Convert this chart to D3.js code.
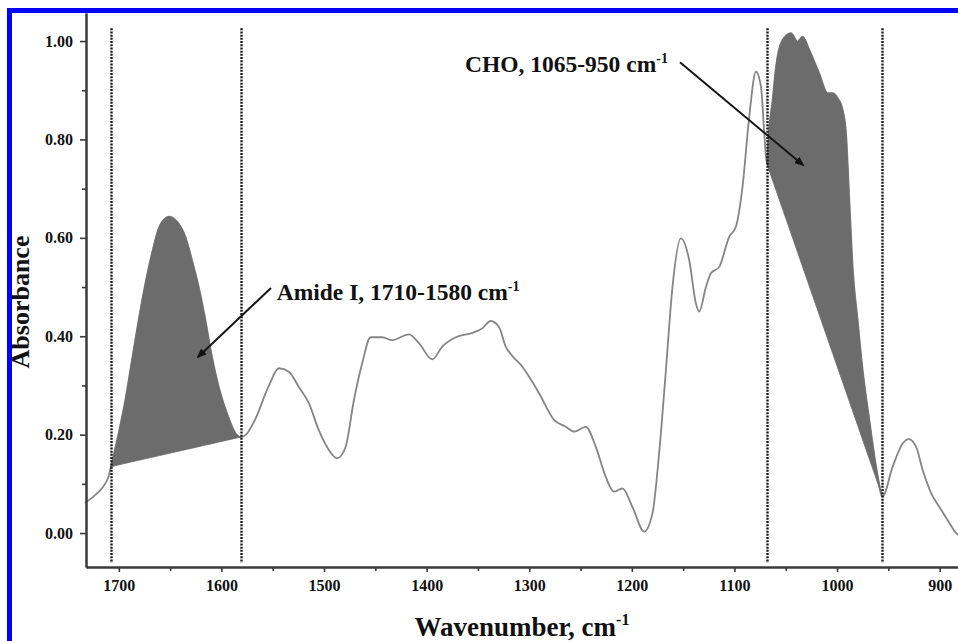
<!DOCTYPE html>
<html>
<head>
<meta charset="utf-8">
<script src="https://cdn.jsdelivr.net/npm/d3@7"></script>
<style>
  html, body { margin: 0; padding: 0; background: #fff; }
  svg { display: block; }
  text { font-family: "Liberation Serif", "Times New Roman", serif; font-weight: bold; fill: #111; }
</style>
</head>
<body>
<svg id="chart" width="958" height="641"></svg>
<script>
// ---- data ----
const wavenumber = [1733, 1726, 1720, 1714, 1710, 1707.7, 1700.2, 1693.7, 1687.2, 1680.7, 1674.1, 1667.7, 1661.2, 1654.6, 1651.4, 1643.3, 1635.1, 1628.7, 1622.1, 1615.6, 1609.2, 1602.6, 1594.5, 1586.3, 1581.3, 1576, 1567.3, 1554.3, 1544.1, 1534.3, 1524.6, 1514.8, 1505.1, 1495.3, 1487.2, 1479.0, 1470.9, 1462.8, 1454.6, 1443.3, 1433.6, 1417.3, 1407.5, 1394.5, 1384.8, 1371.7, 1355.5, 1345.8, 1337.6, 1329.5, 1322.9, 1316.5, 1306.7, 1300.2, 1290.4, 1275.8, 1264.4, 1256.3, 1244.9, 1235.1, 1225.4, 1217.3, 1209.2, 1199.4, 1188.0, 1179.9, 1173.4, 1166.8, 1160.4, 1152.2, 1144.1, 1137.6, 1134.3, 1127.8, 1122.9, 1114.8, 1105.1, 1098.5, 1092.1, 1085.6, 1079.0, 1074.1, 1070.9, 1068.5, 1066.0, 1062.8, 1059.5, 1053.1, 1044.9, 1038.4, 1033.6, 1027.0, 1017.3, 1009.2, 1004.3, 999.4, 994.5, 991.2, 988.0, 984.8, 979.9, 975.0, 968.5, 961.9, 955.8, 945.8, 936.0, 930.1, 922.9, 916.5, 908.3, 900.2, 890.4, 883.9, 875];
const absorbance = [0.061, 0.072, 0.083, 0.098, 0.115, 0.135, 0.203, 0.27, 0.352, 0.433, 0.508, 0.569, 0.619, 0.640, 0.643, 0.633, 0.602, 0.555, 0.50, 0.433, 0.358, 0.297, 0.243, 0.203, 0.195, 0.200, 0.23, 0.297, 0.335, 0.328, 0.297, 0.264, 0.209, 0.169, 0.152, 0.175, 0.27, 0.345, 0.398, 0.398, 0.392, 0.404, 0.386, 0.353, 0.379, 0.398, 0.407, 0.416, 0.431, 0.419, 0.379, 0.36, 0.338, 0.318, 0.284, 0.23, 0.216, 0.206, 0.216, 0.175, 0.114, 0.084, 0.091, 0.053, 0.003, 0.04, 0.162, 0.331, 0.50, 0.599, 0.555, 0.467, 0.45, 0.50, 0.528, 0.541, 0.602, 0.623, 0.704, 0.846, 0.938, 0.907, 0.812, 0.751, 0.826, 0.88, 0.948, 1.002, 1.016, 0.999, 1.009, 0.982, 0.934, 0.894, 0.894, 0.884, 0.86, 0.812, 0.677, 0.541, 0.433, 0.331, 0.23, 0.135, 0.074, 0.135, 0.182, 0.191, 0.175, 0.128, 0.081, 0.053, 0.02, 0.0, -0.01];

// integration regions (start, end wavenumber) and dotted boundary lines
const regionStart = [1707.7, 1068.5];
const regionEnd = [1581.3, 955.8];
const boundaryLines = [1707.7, 1581.3, 1068.5, 955.8];

// axes
const xDomain = [1732, 882.1];
const yDomain = [-0.069, 1.057];
const xMajorTicks = [1700, 1600, 1500, 1400, 1300, 1200, 1100, 1000, 900];
const xMinorTicks = [1650, 1550, 1450, 1350, 1250, 1150, 1050, 950];
const yMajorTicks = [0.0, 0.2, 0.4, 0.6, 0.8, 1.0];
const yMinorTicks = [0.1, 0.3, 0.5, 0.7, 0.9];

// annotations: label, text anchor (wavenumber, absorbance), arrow from, arrow to
const annLabels = ["Amide I, 1710-1580 cm", "CHO, 1065-950 cm"];
const annText = [[1546.1, 0.4736], [1362.6, 0.9376]];
const annFrom = [[1551.7, 0.498], [1153.1, 0.957]];
const annTo = [[1622.8, 0.358], [1033.2, 0.748]];

const xTitle = "Wavenumber, cm";
const yTitle = "Absorbance";

// ---- drawing ----
const svg = d3.select("#chart");
const W = 958, H = 641;
const x = d3.scaleLinear().domain(xDomain).range([86, 958]);
const y = d3.scaleLinear().domain(yDomain).range([567, 13]);

const spectrum = wavenumber.map((w, i) => ({w: w, a: absorbance[i]}));

svg.append("defs").append("marker")
  .attr("id", "arrow").attr("viewBox", "0 0 10 10").attr("refX", 8).attr("refY", 5)
  .attr("markerWidth", 5).attr("markerHeight", 5).attr("orient", "auto")
  .append("path").attr("d", "M0,1 L10,5 L0,9 Z").attr("fill", "#111");

// spectrum line
const line = d3.line().x(d => x(d.w)).y(d => y(d.a)).curve(d3.curveMonotoneX);
svg.append("path").datum(spectrum)
  .attr("d", line).attr("fill", "none").attr("stroke", "#858585").attr("stroke-width", 1.8);

// filled regions with straight baseline
regionStart.forEach((ws, k) => {
  const we = regionEnd[k];
  const pts = spectrum.filter(d => d.w <= ws && d.w >= we);
  const p0 = pts[0], p1 = pts[pts.length - 1];
  const base = d3.scaleLinear().domain([p0.w, p1.w]).range([p0.a, p1.a]);
  const area = d3.area().x(d => x(d.w)).y1(d => y(d.a)).y0(d => y(base(d.w))).curve(d3.curveMonotoneX);
  svg.append("path").datum(pts).attr("d", area).attr("fill", "#6c6c6c").attr("stroke", "#6c6c6c").attr("stroke-width", 0.8);
});

// dotted boundary lines
svg.selectAll(".bline").data(boundaryLines).enter().append("line")
  .attr("x1", d => Math.round(x(d)) + 0.5).attr("x2", d => Math.round(x(d)) + 0.5)
  .attr("y1", y(1.026)).attr("y2", y(-0.061))
  .attr("stroke", "#1a1a1a").attr("stroke-width", 2.4).attr("stroke-dasharray", "2,1.2");

// axes
const axisColor = "#3a3a3a";
function styleAxis(g) {
  g.select(".domain").attr("stroke", axisColor).attr("stroke-width", 2);
  g.selectAll(".tick line").attr("stroke", axisColor).attr("stroke-width", 1.6);
  g.selectAll(".tick text").attr("font-size", 16).attr("fill", "#111")
    .attr("font-family", "Liberation Serif, Times New Roman, serif").attr("font-weight", "bold");
}
const gx = svg.append("g").attr("transform", "translate(0,567)")
  .call(d3.axisBottom(x).tickValues(xMajorTicks).tickFormat(d3.format("d")).tickSize(5).tickSizeOuter(0).tickPadding(8));
styleAxis(gx);
const gxm = svg.append("g").attr("transform", "translate(0,567)")
  .call(d3.axisBottom(x).tickValues(xMinorTicks).tickFormat("").tickSize(4).tickSizeOuter(0));
styleAxis(gxm);
const gy = svg.append("g").attr("transform", "translate(86,0)")
  .call(d3.axisLeft(y).tickValues(yMajorTicks).tickFormat(d3.format(".2f")).tickSize(6).tickSizeOuter(0).tickPadding(7));
styleAxis(gy);
const gym = svg.append("g").attr("transform", "translate(86,0)")
  .call(d3.axisLeft(y).tickValues(yMinorTicks).tickFormat("").tickSize(4).tickSizeOuter(0));
styleAxis(gym);

// annotation arrows and labels
annLabels.forEach((lab, k) => {
  svg.append("line")
    .attr("x1", x(annFrom[k][0])).attr("y1", y(annFrom[k][1]))
    .attr("x2", x(annTo[k][0])).attr("y2", y(annTo[k][1]))
    .attr("stroke", "#151515").attr("stroke-width", 2).attr("marker-end", "url(#arrow)");
  const t = svg.append("text").attr("x", x(annText[k][0])).attr("y", y(annText[k][1])).attr("font-size", 23.5);
  t.append("tspan").text(lab);
  t.append("tspan").attr("font-size", 14).attr("dy", -9).text("-1");
});

// axis titles
const xt = svg.append("text").attr("x", (x.range()[0] + x.range()[1]) / 2).attr("y", 636)
  .attr("text-anchor", "middle").attr("font-size", 27);
xt.append("tspan").text(xTitle);
xt.append("tspan").attr("font-size", 16).attr("dy", -11).text("-1");

svg.append("text").attr("transform", "translate(29," + ((y.range()[0] + y.range()[1]) / 2 + 12) + ") rotate(-90)")
  .attr("text-anchor", "middle").attr("font-size", 26).text(yTitle);

// blue frame (cropped at right and bottom)
svg.append("rect").attr("x", 9.5).attr("y", 10.5).attr("width", W + 20).attr("height", H + 20)
  .attr("fill", "none").attr("stroke", "#0000ff").attr("stroke-width", 5);
</script>
</body>
</html>
